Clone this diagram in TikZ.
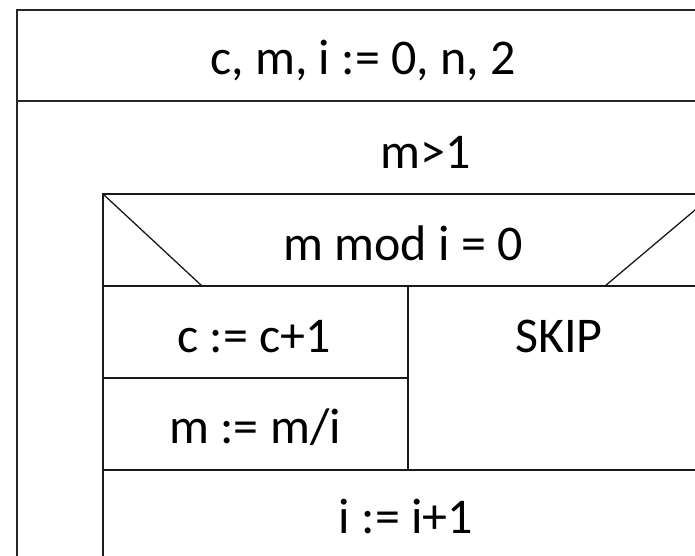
\documentclass[tikz,border=0pt]{standalone}
\usepackage{fontspec}
\setmainfont{Carlito}
\begin{document}
\begin{tikzpicture}[x=1pt,y=-1pt,
  lbl/.style={anchor=base,inner sep=0pt,font=\fontsize{50}{60}\selectfont},
  outer/.style={line width=1.6pt,draw=black!85},
  inner/.style={line width=1.3pt,draw=black!90}]
\useasboundingbox[fill=white] (0,0) rectangle (695,556);
\begin{scope}
\clip (0,0) rectangle (695,556);
\draw[outer] (17,556) -- (17,10) -- (700,10);
\draw[outer] (17,101) -- (700,101);
\draw[inner] (103,556) -- (103,194) -- (700,194);
\draw[inner] (103,286) -- (700,286);
\draw[inner] (103,194) -- (202,286);
\draw[inner] (605,286) -- (714,194);
\draw[inner] (408,286) -- (408,470);
\draw[inner] (103,378) -- (408,378);
\draw[inner] (103,470) -- (700,470);
\end{scope}
\node[lbl] (init) at (363,75) {c, m, i := 0, n, 2};
\node[lbl] (loop) at (426,168) {m>1};
\node[lbl] (cond) at (403,260) {m mod i = 0};
\node[lbl] (inc) at (254,352) {c := c+1};
\node[lbl] (skip) at (559,352) {SKIP};
\node[lbl] (div) at (255,443) {m := m/i};
\node[lbl] (next) at (406,533) {i := i+1};
\end{tikzpicture}
\end{document}
